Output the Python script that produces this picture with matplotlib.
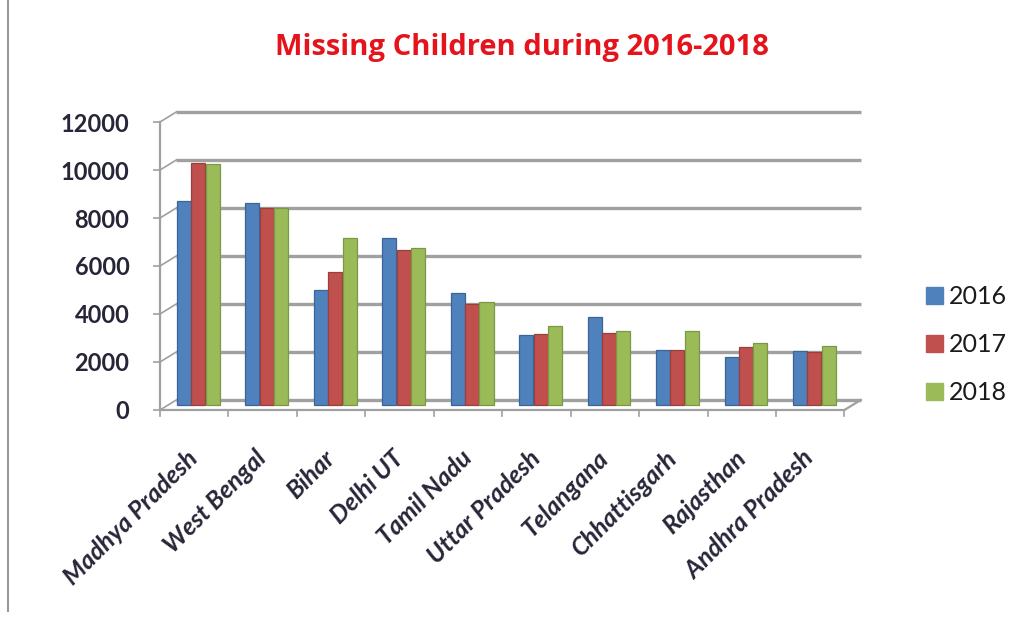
import matplotlib.pyplot as plt
import matplotlib.lines as mlines
import numpy as np

states = ['Madhya Pradesh', 'West Bengal', 'Bihar', 'Delhi UT', 'Tamil Nadu',
          'Uttar Pradesh', 'Telangana', 'Chhattisgarh', 'Rajasthan', 'Andhra Pradesh']
years = ['2016', '2017', '2018']
y2016 = [8500, 8400, 4800, 6950, 4650, 2900, 3670, 2280, 2000, 2240]
y2017 = [10100, 8200, 5550, 6450, 4200, 2950, 3000, 2280, 2400, 2200]
y2018 = [10050, 8200, 6950, 6550, 4300, 3300, 3100, 3100, 2570, 2450]
yticks = [0, 2000, 4000, 6000, 8000, 10000, 12000]

colors = ['#4F81BD', '#C0504D', '#9BBB59']
edges = ['#3A6596', '#98403D', '#7A9846']
grid_c = '#A0A0A0'
text_c = '#262638'

plt.rcParams['font.family'] = ['Lato', 'DejaVu Sans']

fig = plt.figure(figsize=(10.22, 6.17), dpi=100)
ax = fig.add_axes([160 / 1022, 1 - 420 / 617, 705 / 1022, 320 / 617])
n = len(states)
ax.set_xlim(-0.5, n - 0.5 + 0.3)
ax.set_ylim(-417, 12917)

# pseudo-3D depth offsets (back wall vs front axis)
dx, dy = 0.24, 420

# back wall gridlines with slanted left edge
for g in yticks:
    ax.plot([-0.5 + dx, n - 0.5 + dx], [g + dy, g + dy], color=grid_c, lw=2.4,
            zorder=1, solid_capstyle='butt')
    ax.plot([-0.5, -0.5 + dx], [g, g + dy], color=grid_c, lw=1.2, zorder=1)
# floor front edge and right diagonal
ax.plot([-0.5, n - 0.5], [0, 0], color=grid_c, lw=1.6, zorder=1)
ax.plot([n - 0.5, n - 0.5 + dx], [0, dy], color=grid_c, lw=1.6, zorder=1)
# x tick marks
for k in range(n + 1):
    ax.plot([k - 0.5, k - 0.5], [0, -230], color=grid_c, lw=1.2, zorder=1,
            clip_on=False)

x = np.arange(n)
w = 0.205
offs = [-0.15, 0.06, 0.27]
for vals, c, ec, o in zip([y2016, y2017, y2018], colors, edges, offs):
    ax.bar(x + o, vals, width=w, bottom=dy / 2, color=c, edgecolor=ec,
           linewidth=0.9, zorder=3)

for s in ['top', 'right', 'bottom']:
    ax.spines[s].set_visible(False)
ax.spines['left'].set_bounds(0, 12000)
ax.spines['left'].set_color(grid_c)
ax.spines['left'].set_linewidth(1.6)

ax.set_yticks(yticks)
ax.set_yticklabels([str(t) for t in yticks], fontsize=17, fontweight='bold',
                   color=text_c)
ax.tick_params(axis='y', length=5, width=1.2, color=grid_c, pad=17)

ax.set_xticks(x - 0.12)
ax.set_xticklabels(states, rotation=45, ha='right', rotation_mode='anchor',
                   fontsize=18, fontweight='bold', fontstyle='italic',
                   color=text_c)
ax.tick_params(axis='x', length=0, pad=19)

fig.text(0.511, 1 - 48 / 617, 'Missing Children during 2016-2018', ha='center',
         va='center', fontsize=21, fontweight='bold', color='#E5141C',
         family=['Open Sans', 'DejaVu Sans'])

handles = [plt.Rectangle((0, 0), 1, 1, color=c) for c in colors]
fig.legend(handles, years, loc='center left', bbox_to_anchor=(903 / 1022, 1 - 345 / 617),
           frameon=False, fontsize=18, handlelength=0.68, handleheight=0.68,
           handletextpad=0.25, labelspacing=1.0, labelcolor='#1A1A1A')

# left border of the original picture frame
fig.add_artist(mlines.Line2D([8 / 1022, 8 / 1022], [0.01, 1.0], color='#9A9A9A',
                             lw=1.5))

fig.savefig('out.png', dpi=100)
